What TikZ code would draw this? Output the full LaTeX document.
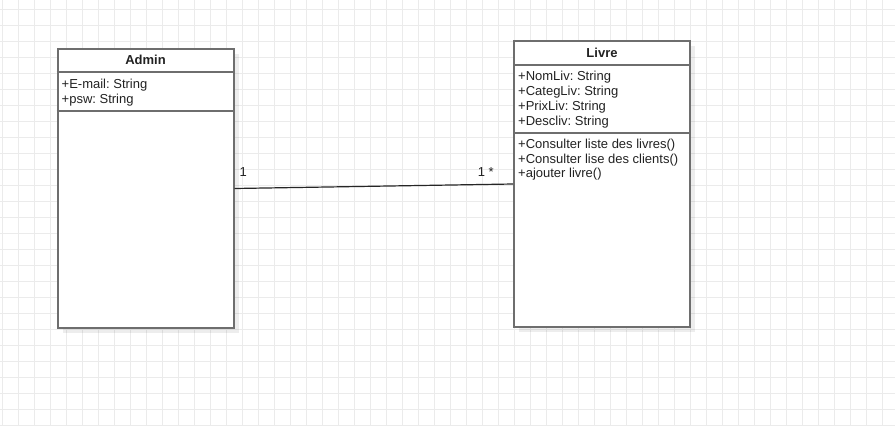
\documentclass[tikz,border=0pt]{standalone}
\usepackage{fontspec}
\setmainfont{Liberation Sans}
\usetikzlibrary{shadows}
\frenchspacing

\definecolor{gridgray}{HTML}{EBEBEB}
\definecolor{boxgray}{HTML}{6E6E6E}
\definecolor{textgray}{HTML}{222222}

\begin{document}
\begin{tikzpicture}[x=1pt, y=-1pt,
    gridline/.style={gridgray, line width=1pt},
    umlbox/.style={draw=boxgray, line width=2pt, fill=white, rectangle, inner sep=0pt,
        drop shadow={shadow xshift=5pt, shadow yshift=-5pt, fill=black, opacity=0.07}},
    divider/.style={boxgray, line width=2pt},
    txt/.style={font=\fontsize{13}{15}\selectfont, text=textgray, inner sep=0pt, anchor=base west},
    ttl/.style={font=\fontsize{13}{15}\selectfont\bfseries, text=textgray, inner sep=0pt, anchor=base},
    assoc/.style={draw=black!85, line width=1.2pt}]

    \useasboundingbox (0,0) rectangle (895,426);
    \fill[white] (0,0) rectangle (895,426);

    % background grid
    \foreach \x in {2,18,...,895} \draw[gridline] (\x+0.3,0) -- (\x+0.3,425);
    \foreach \y in {9,25,...,425} \draw[gridline] (0,\y) -- (895,\y);

    % Admin class
    \node[umlbox, minimum width=176pt, minimum height=279pt] (admin) at (145.5,188.5) {};
    \draw[divider] ([yshift=-24pt]admin.north west) -- ([yshift=-24pt]admin.north east);
    \draw[divider] ([yshift=-63pt]admin.north west) -- ([yshift=-63pt]admin.north east);
    \node[ttl] (admintitle) at ([yshift=-16.7pt]admin.north) {Admin};
    \foreach \y/\t [count=\i] in {40.3/+E-mail: String, 55.3/+psw: String}
        \node[txt] (adminattr\i) at ([xshift=5pt, yshift={-\y*1pt}]admin.north west) {\t};

    % Livre class
    \node[umlbox, minimum width=176pt, minimum height=286pt] (livre) at (602,184) {};
    \draw[divider] ([yshift=-25pt]livre.north west) -- ([yshift=-25pt]livre.north east);
    \draw[divider] ([yshift=-92.7pt]livre.north west) -- ([yshift=-92.7pt]livre.north east);
    \node[ttl] (livretitle) at ([yshift=-17.3pt]livre.north) {Livre};
    \foreach \y/\t [count=\i] in {40.5/+NomLiv: String, 55.5/+CategLiv: String,
                                 70.5/+PrixLiv: String, 85.5/+Descliv: String}
        \node[txt] (livreattr\i) at ([xshift=5pt, yshift={-\y*1pt}]livre.north west) {\t};
    \foreach \y/\t [count=\i] in {108.3/+Consulter liste des livres(),
                                 123/+Consulter lise des clients(), 137.7/+ajouter livre()}
        \node[txt] (livreop\i) at ([xshift=5pt, yshift={-\y*1pt}]livre.north west) {\t};

    % association
    \draw[assoc] (admin.east) -- (livre.west);
    \node[txt] (multadmin) at ([xshift=5pt, yshift=12.5pt]admin.east) {1};
    \node[txt, anchor=base east] (multlivre) at ([xshift=-19pt, yshift=8pt]livre.west) {1 *};

\end{tikzpicture}
\end{document}
